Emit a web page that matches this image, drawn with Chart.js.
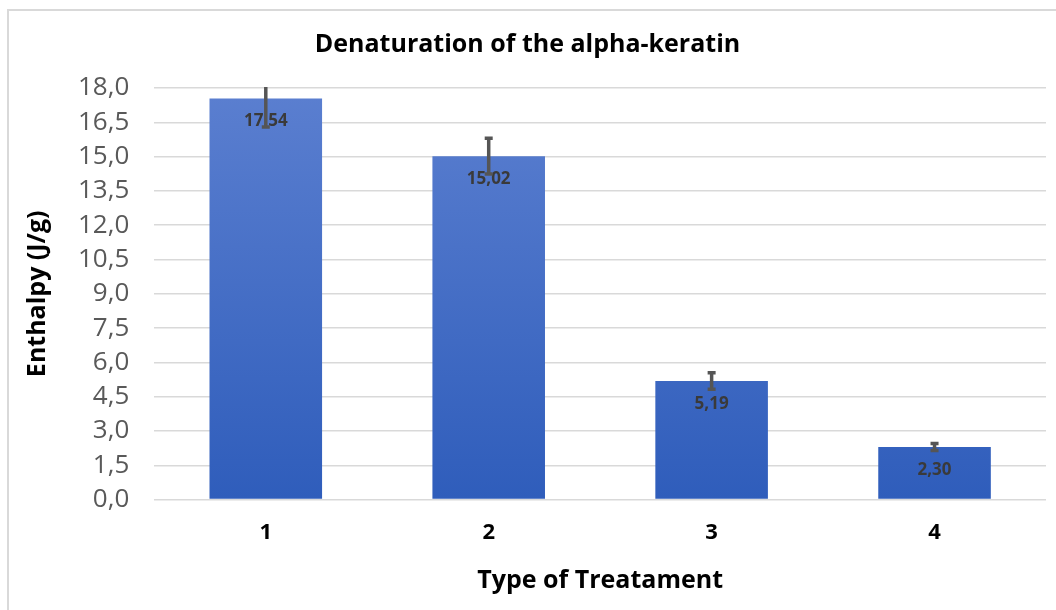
<!DOCTYPE html>
<html lang="en">
<head>
  <meta charset="UTF-8">
  <title>Denaturation of the alpha-keratin</title>
  <script src="https://cdn.jsdelivr.net/npm/chart.js"></script>
  <style>
    html, body { margin: 0; padding: 0; background: #fff; }
    #wrap { position: relative; width: 1056px; height: 610px; }
    #frame { position: absolute; left: 7px; top: 9px; width: 1060px; height: 620px;
             border-left: 2px solid #d9d9d9; border-top: 2px solid #d9d9d9; }
    canvas { position: absolute; left: 0; top: 0; }
  </style>
</head>
<body>
  <div id="wrap">
    <div id="frame"></div>
    <canvas id="enthalpyChart" width="1056" height="610"></canvas>
  </div>
  <script>
    const treatments = ['1', '2', '3', '4'];
    const enthalpy = [17.54, 15.02, 5.19, 2.30];
    const enthalpyErr = [1.25, 0.78, 0.36, 0.15];

    const fmt = v => v.toFixed(2).replace('.', ',');

    // value labels + error bars, drawn on top of the bars
    const barExtras = {
      id: 'barExtras',
      afterDatasetsDraw(chart) {
        const ctx = chart.ctx;
        const meta = chart.getDatasetMeta(0);
        const y = chart.scales.y;
        const area = chart.chartArea;
        ctx.save();
        ctx.font = 'bold 17px "Open Sans", sans-serif';
        ctx.fillStyle = '#3a3a3a';
        ctx.textAlign = 'center';
        ctx.textBaseline = 'middle';
        meta.data.forEach((bar, i) => {
          ctx.fillText(fmt(enthalpy[i]), bar.x, bar.y + 23);
        });
        ctx.beginPath();
        ctx.rect(area.left, area.top - 1, area.right - area.left, area.bottom - area.top + 1);
        ctx.clip();
        ctx.strokeStyle = '#555555';
        ctx.lineWidth = 3.5;
        meta.data.forEach((bar, i) => {
          const top = y.getPixelForValue(enthalpy[i] + enthalpyErr[i]);
          const bot = y.getPixelForValue(enthalpy[i] - enthalpyErr[i]);
          ctx.beginPath();
          ctx.moveTo(bar.x, top);
          ctx.lineTo(bar.x, bot);
          ctx.moveTo(bar.x - 4, top);
          ctx.lineTo(bar.x + 4, top);
          ctx.moveTo(bar.x - 4, bot);
          ctx.lineTo(bar.x + 4, bot);
          ctx.stroke();
        });
        ctx.restore();
      }
    };

    function barGradient(context) {
      const area = context.chart.chartArea;
      if (!area) return '#4472c4';
      const g = context.chart.ctx.createLinearGradient(0, area.top, 0, area.bottom);
      g.addColorStop(0, '#5b7fd0');
      g.addColorStop(1, '#2f5dbb');
      return g;
    }

    var ctx = document.getElementById('enthalpyChart').getContext('2d');
    var chart = new Chart(ctx, {
      type: 'bar',
      data: {
        labels: treatments,
        datasets: [{
          label: 'Enthalpy',
          data: enthalpy,
          backgroundColor: barGradient,
          categoryPercentage: 1,
          barPercentage: 0.505
        }]
      },
      options: {
        responsive: false,
        animation: false,
        layout: { padding: { left: 9, right: 10, top: 8, bottom: 0 } },
        plugins: {
          legend: { display: false },
          tooltip: { enabled: false },
          title: {
            display: true,
            text: 'Denaturation of the alpha-keratin',
            color: '#000',
            font: { family: '"Open Sans", sans-serif', size: 25, weight: 'bold' },
            padding: { top: 22, bottom: 28 }
          }
        },
        scales: {
          x: {
            grid: { display: false, drawTicks: false },
            border: { display: false },
            ticks: {
              color: '#000',
              font: { family: '"Open Sans", sans-serif', size: 22, weight: 'bold' },
              padding: 20
            },
            title: {
              display: true,
              text: 'Type of Treatament',
              color: '#000',
              font: { family: '"Open Sans", sans-serif', size: 25, weight: 'bold' },
              padding: { top: 0, bottom: 14 }
            }
          },
          y: {
            min: 0,
            max: 18,
            border: { display: false },
            grid: { color: '#d9d9d9', lineWidth: 1.5, drawTicks: false },
            ticks: {
              stepSize: 1.5,
              autoSkip: false,
              color: '#595959',
              font: { family: '"Open Sans", sans-serif', size: 26 },
              padding: 25,
              callback: v => v.toFixed(1).replace('.', ',')
            },
            title: {
              display: true,
              text: 'Enthalpy (J/g)',
              color: '#000',
              font: { family: '"Open Sans", sans-serif', size: 25, weight: 'bold' },
              padding: { top: 14, bottom: 0 }
            }
          }
        }
      },
      plugins: [barExtras]
    });
  </script>
</body>
</html>
